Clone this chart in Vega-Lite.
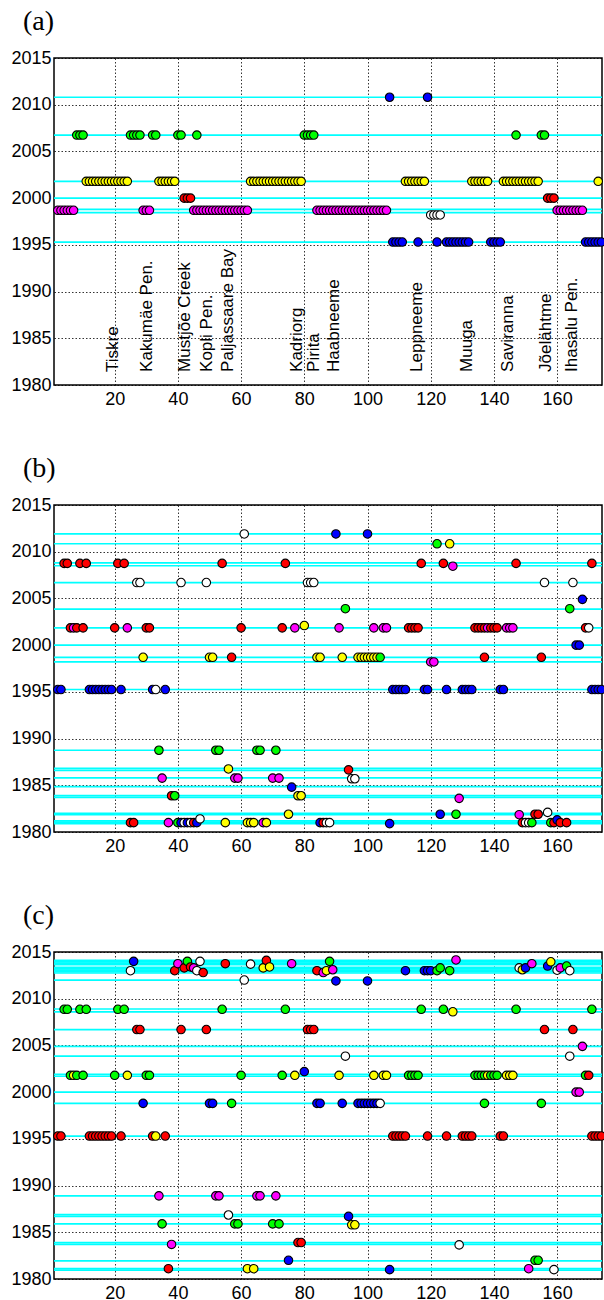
{
"$schema":"https://vega.github.io/schema/vega-lite/v6.json",
"padding":{"left":10,"top":7,"right":0,"bottom":0},
"background":"white",
"spacing":45,
"config":{
"font":"Liberation Sans",
"view":{"stroke":"black","strokeWidth":1.5},
"axis":{"grid":true,"gridColor":"black","gridDash":[1.5,2],"gridWidth":0.8,"gridOpacity":1,"domain":false,"ticks":false,"labelFontSize":18,"labelColor":"black","labelFont":"Liberation Sans"},
"axisX":{"labelPadding":5},
"axisY":{"labelPadding":3},
"title":{"font":"Liberation Serif","fontSize":28,"fontWeight":"normal","anchor":"start","frame":"group","dx":-31,"offset":13,"color":"black"}
},
"datasets":{
"lines":[
{"p":"a","y":2010.8},{"p":"a","y":2006.75},{"p":"a","y":2001.8},{"p":"a","y":2000},{"p":"a","y":1998.8},{"p":"a","y":1998.45},{"p":"a","y":1995.3},
{"p":"b","y":2011.9},{"p":"b","y":2010.85},{"p":"b","y":2008.8},{"p":"b","y":2008.5},{"p":"b","y":2006.7},{"p":"b","y":2003.85},{"p":"b","y":2001.85},{"p":"b","y":2000},{"p":"b","y":1998.7},{"p":"b","y":1998.2},{"p":"b","y":1995.25},{"p":"b","y":1988.75},{"p":"b","y":1986.8},{"p":"b","y":1986.6},{"p":"b","y":1985.8},{"p":"b","y":1984.85},{"p":"b","y":1983.9},{"p":"b","y":1983.7},{"p":"b","y":1982.0},{"p":"b","y":1981.85},{"p":"b","y":1981.2},{"p":"b","y":1981.05},{"p":"b","y":1980.9},
{"p":"c","y":2014.1},{"p":"c","y":2013.95},{"p":"c","y":2013.8},{"p":"c","y":2013.65},{"p":"c","y":2013.35},{"p":"c","y":2013.2},{"p":"c","y":2013.05},{"p":"c","y":2012.9},{"p":"c","y":2012.75},{"p":"c","y":2012.0},{"p":"c","y":2008.9},{"p":"c","y":2008.6},{"p":"c","y":2006.7},{"p":"c","y":2004.9},{"p":"c","y":2003.85},{"p":"c","y":2001.9},{"p":"c","y":2001.7},{"p":"c","y":2000},{"p":"c","y":1998.8},{"p":"c","y":1995.3},{"p":"c","y":1988.9},{"p":"c","y":1986.9},{"p":"c","y":1986.7},{"p":"c","y":1985.9},{"p":"c","y":1983.9},{"p":"c","y":1983.7},{"p":"c","y":1981.95},{"p":"c","y":1981.1},{"p":"c","y":1980.95}
],
"labels":[
{"t":"Tiskre","x":19.4},{"t":"Kakumäe Pen.","x":30.1},{"t":"Mustjõe Creek","x":42.4},{"t":"Kopli Pen.","x":49.1},{"t":"Paljassaare Bay","x":55.7},{"t":"Kadriorg","x":77.7},{"t":"Pirita","x":83.1},{"t":"Haabneeme","x":89.4},{"t":"Leppneeme","x":115.6},{"t":"Muuga","x":131.4},{"t":"Saviranna","x":144.6},{"t":"Jõelähtme","x":156.4},{"t":"Ihasalu Pen.","x":164.6}
],
"pts":[
{"p":"a","x":2,"y":1998.7,"c":"m"},{"p":"a","x":3,"y":1998.7,"c":"m"},{"p":"a","x":4,"y":1998.7,"c":"m"},{"p":"a","x":5,"y":1998.7,"c":"m"},{"p":"a","x":6,"y":1998.7,"c":"m"},{"p":"a","x":7,"y":1998.7,"c":"m"},
{"p":"a","x":8,"y":2006.75,"c":"g"},{"p":"a","x":9,"y":2006.75,"c":"g"},{"p":"a","x":10,"y":2006.75,"c":"g"},
{"p":"a","x":11,"y":2001.8,"c":"y"},{"p":"a","x":12,"y":2001.8,"c":"y"},{"p":"a","x":13,"y":2001.8,"c":"y"},{"p":"a","x":14,"y":2001.8,"c":"y"},{"p":"a","x":15,"y":2001.8,"c":"y"},{"p":"a","x":16,"y":2001.8,"c":"y"},{"p":"a","x":17,"y":2001.8,"c":"y"},{"p":"a","x":18,"y":2001.8,"c":"y"},{"p":"a","x":19,"y":2001.8,"c":"y"},{"p":"a","x":20,"y":2001.8,"c":"y"},{"p":"a","x":21,"y":2001.8,"c":"y"},{"p":"a","x":22,"y":2001.8,"c":"y"},{"p":"a","x":23,"y":2001.8,"c":"y"},{"p":"a","x":24,"y":2001.8,"c":"y"},
{"p":"a","x":25,"y":2006.75,"c":"g"},{"p":"a","x":26,"y":2006.75,"c":"g"},{"p":"a","x":27,"y":2006.75,"c":"g"},{"p":"a","x":28,"y":2006.75,"c":"g"},
{"p":"a","x":29,"y":1998.7,"c":"m"},{"p":"a","x":30,"y":1998.7,"c":"m"},{"p":"a","x":31,"y":1998.7,"c":"m"},
{"p":"a","x":32,"y":2006.75,"c":"g"},{"p":"a","x":33,"y":2006.75,"c":"g"},
{"p":"a","x":34,"y":2001.8,"c":"y"},{"p":"a","x":35,"y":2001.8,"c":"y"},{"p":"a","x":36,"y":2001.8,"c":"y"},{"p":"a","x":37,"y":2001.8,"c":"y"},{"p":"a","x":38,"y":2001.8,"c":"y"},{"p":"a","x":39,"y":2001.8,"c":"y"},
{"p":"a","x":40,"y":2006.75,"c":"g"},{"p":"a","x":41,"y":2006.75,"c":"g"},
{"p":"a","x":42,"y":2000,"c":"r"},{"p":"a","x":43,"y":2000,"c":"r"},{"p":"a","x":44,"y":2000,"c":"r"},
{"p":"a","x":45,"y":1998.7,"c":"m"},{"p":"a","x":46,"y":1998.7,"c":"m"},{"p":"a","x":47,"y":1998.7,"c":"m"},{"p":"a","x":48,"y":1998.7,"c":"m"},{"p":"a","x":49,"y":1998.7,"c":"m"},{"p":"a","x":50,"y":1998.7,"c":"m"},{"p":"a","x":51,"y":1998.7,"c":"m"},{"p":"a","x":52,"y":1998.7,"c":"m"},{"p":"a","x":53,"y":1998.7,"c":"m"},{"p":"a","x":54,"y":1998.7,"c":"m"},{"p":"a","x":55,"y":1998.7,"c":"m"},{"p":"a","x":56,"y":1998.7,"c":"m"},{"p":"a","x":57,"y":1998.7,"c":"m"},{"p":"a","x":58,"y":1998.7,"c":"m"},{"p":"a","x":59,"y":1998.7,"c":"m"},{"p":"a","x":60,"y":1998.7,"c":"m"},{"p":"a","x":61,"y":1998.7,"c":"m"},{"p":"a","x":62,"y":1998.7,"c":"m"},
{"p":"a","x":46,"y":2006.75,"c":"g"},
{"p":"a","x":63,"y":2001.8,"c":"y"},{"p":"a","x":64,"y":2001.8,"c":"y"},{"p":"a","x":65,"y":2001.8,"c":"y"},{"p":"a","x":66,"y":2001.8,"c":"y"},{"p":"a","x":67,"y":2001.8,"c":"y"},{"p":"a","x":68,"y":2001.8,"c":"y"},{"p":"a","x":69,"y":2001.8,"c":"y"},{"p":"a","x":70,"y":2001.8,"c":"y"},{"p":"a","x":71,"y":2001.8,"c":"y"},{"p":"a","x":72,"y":2001.8,"c":"y"},{"p":"a","x":73,"y":2001.8,"c":"y"},{"p":"a","x":74,"y":2001.8,"c":"y"},{"p":"a","x":75,"y":2001.8,"c":"y"},{"p":"a","x":76,"y":2001.8,"c":"y"},{"p":"a","x":77,"y":2001.8,"c":"y"},{"p":"a","x":78,"y":2001.8,"c":"y"},{"p":"a","x":79,"y":2001.8,"c":"y"},
{"p":"a","x":80,"y":2006.75,"c":"g"},{"p":"a","x":81,"y":2006.75,"c":"g"},{"p":"a","x":82,"y":2006.75,"c":"g"},{"p":"a","x":83,"y":2006.75,"c":"g"},
{"p":"a","x":84,"y":1998.7,"c":"m"},{"p":"a","x":85,"y":1998.7,"c":"m"},{"p":"a","x":86,"y":1998.7,"c":"m"},{"p":"a","x":87,"y":1998.7,"c":"m"},{"p":"a","x":88,"y":1998.7,"c":"m"},{"p":"a","x":89,"y":1998.7,"c":"m"},{"p":"a","x":90,"y":1998.7,"c":"m"},{"p":"a","x":91,"y":1998.7,"c":"m"},{"p":"a","x":92,"y":1998.7,"c":"m"},{"p":"a","x":93,"y":1998.7,"c":"m"},{"p":"a","x":94,"y":1998.7,"c":"m"},{"p":"a","x":95,"y":1998.7,"c":"m"},{"p":"a","x":96,"y":1998.7,"c":"m"},{"p":"a","x":97,"y":1998.7,"c":"m"},{"p":"a","x":98,"y":1998.7,"c":"m"},{"p":"a","x":99,"y":1998.7,"c":"m"},{"p":"a","x":100,"y":1998.7,"c":"m"},{"p":"a","x":101,"y":1998.7,"c":"m"},{"p":"a","x":102,"y":1998.7,"c":"m"},{"p":"a","x":103,"y":1998.7,"c":"m"},{"p":"a","x":104,"y":1998.7,"c":"m"},{"p":"a","x":105,"y":1998.7,"c":"m"},{"p":"a","x":106,"y":1998.7,"c":"m"},
{"p":"a","x":107,"y":2010.8,"c":"b"},
{"p":"a","x":108,"y":1995.3,"c":"b"},{"p":"a","x":109,"y":1995.3,"c":"b"},{"p":"a","x":110,"y":1995.3,"c":"b"},{"p":"a","x":111,"y":1995.3,"c":"b"},
{"p":"a","x":112,"y":2001.8,"c":"y"},{"p":"a","x":113,"y":2001.8,"c":"y"},{"p":"a","x":114,"y":2001.8,"c":"y"},{"p":"a","x":115,"y":2001.8,"c":"y"},{"p":"a","x":116,"y":2001.8,"c":"y"},{"p":"a","x":117,"y":2001.8,"c":"y"},{"p":"a","x":118,"y":2001.8,"c":"y"},
{"p":"a","x":116,"y":1995.3,"c":"b"},
{"p":"a","x":119,"y":2010.8,"c":"b"},
{"p":"a","x":120,"y":1998.2,"c":"w"},{"p":"a","x":121,"y":1998.2,"c":"w"},{"p":"a","x":122,"y":1998.2,"c":"w"},{"p":"a","x":123,"y":1998.2,"c":"w"},
{"p":"a","x":122,"y":1995.3,"c":"b"},
{"p":"a","x":125,"y":1995.3,"c":"b"},{"p":"a","x":126,"y":1995.3,"c":"b"},{"p":"a","x":127,"y":1995.3,"c":"b"},{"p":"a","x":128,"y":1995.3,"c":"b"},{"p":"a","x":129,"y":1995.3,"c":"b"},{"p":"a","x":130,"y":1995.3,"c":"b"},{"p":"a","x":131,"y":1995.3,"c":"b"},{"p":"a","x":132,"y":1995.3,"c":"b"},
{"p":"a","x":133,"y":2001.8,"c":"y"},{"p":"a","x":134,"y":2001.8,"c":"y"},{"p":"a","x":135,"y":2001.8,"c":"y"},{"p":"a","x":136,"y":2001.8,"c":"y"},{"p":"a","x":137,"y":2001.8,"c":"y"},{"p":"a","x":138,"y":2001.8,"c":"y"},
{"p":"a","x":139,"y":1995.3,"c":"b"},{"p":"a","x":140,"y":1995.3,"c":"b"},{"p":"a","x":141,"y":1995.3,"c":"b"},{"p":"a","x":142,"y":1995.3,"c":"b"},
{"p":"a","x":143,"y":2001.8,"c":"y"},{"p":"a","x":144,"y":2001.8,"c":"y"},{"p":"a","x":145,"y":2001.8,"c":"y"},{"p":"a","x":146,"y":2001.8,"c":"y"},{"p":"a","x":147,"y":2001.8,"c":"y"},{"p":"a","x":148,"y":2001.8,"c":"y"},{"p":"a","x":149,"y":2001.8,"c":"y"},{"p":"a","x":150,"y":2001.8,"c":"y"},{"p":"a","x":151,"y":2001.8,"c":"y"},{"p":"a","x":152,"y":2001.8,"c":"y"},{"p":"a","x":153,"y":2001.8,"c":"y"},{"p":"a","x":154,"y":2001.8,"c":"y"},
{"p":"a","x":147,"y":2006.75,"c":"g"},{"p":"a","x":155,"y":2006.75,"c":"g"},{"p":"a","x":156,"y":2006.75,"c":"g"},
{"p":"a","x":157,"y":2000,"c":"r"},{"p":"a","x":158,"y":2000,"c":"r"},{"p":"a","x":159,"y":2000,"c":"r"},
{"p":"a","x":160,"y":1998.7,"c":"m"},{"p":"a","x":161,"y":1998.7,"c":"m"},{"p":"a","x":162,"y":1998.7,"c":"m"},{"p":"a","x":163,"y":1998.7,"c":"m"},{"p":"a","x":164,"y":1998.7,"c":"m"},{"p":"a","x":165,"y":1998.7,"c":"m"},{"p":"a","x":166,"y":1998.7,"c":"m"},{"p":"a","x":167,"y":1998.7,"c":"m"},{"p":"a","x":168,"y":1998.7,"c":"m"},
{"p":"a","x":169,"y":1995.3,"c":"b"},{"p":"a","x":170,"y":1995.3,"c":"b"},{"p":"a","x":171,"y":1995.3,"c":"b"},{"p":"a","x":172,"y":1995.3,"c":"b"},{"p":"a","x":173,"y":1995.3,"c":"b"},{"p":"a","x":174,"y":1995.3,"c":"b"},
{"p":"a","x":173,"y":2001.8,"c":"y"},

{"p":"b","x":2,"y":1995.25,"c":"b"},{"p":"b","x":3,"y":1995.25,"c":"b"},
{"p":"b","x":4,"y":2008.75,"c":"r"},{"p":"b","x":5,"y":2008.75,"c":"r"},
{"p":"b","x":6,"y":2001.85,"c":"r"},{"p":"b","x":7,"y":2001.85,"c":"m"},{"p":"b","x":8,"y":2001.85,"c":"r"},{"p":"b","x":10,"y":2001.85,"c":"r"},
{"p":"b","x":9,"y":2008.75,"c":"r"},{"p":"b","x":11,"y":2008.75,"c":"r"},
{"p":"b","x":12,"y":1995.25,"c":"b"},{"p":"b","x":13,"y":1995.25,"c":"b"},{"p":"b","x":14,"y":1995.25,"c":"b"},{"p":"b","x":15,"y":1995.25,"c":"b"},{"p":"b","x":16,"y":1995.25,"c":"b"},{"p":"b","x":17,"y":1995.25,"c":"b"},{"p":"b","x":18,"y":1995.25,"c":"b"},{"p":"b","x":19,"y":1995.25,"c":"b"},
{"p":"b","x":20,"y":2001.85,"c":"r"},{"p":"b","x":21,"y":2008.75,"c":"r"},{"p":"b","x":22,"y":1995.25,"c":"b"},{"p":"b","x":23,"y":2008.75,"c":"r"},{"p":"b","x":24,"y":2001.85,"c":"m"},
{"p":"b","x":25,"y":1981.0,"c":"r"},{"p":"b","x":26,"y":1981.0,"c":"r"},
{"p":"b","x":27,"y":2006.7,"c":"w"},{"p":"b","x":28,"y":2006.7,"c":"w"},
{"p":"b","x":29,"y":1998.7,"c":"y"},{"p":"b","x":30,"y":2001.85,"c":"r"},{"p":"b","x":31,"y":2001.85,"c":"r"},
{"p":"b","x":32,"y":1995.25,"c":"b"},{"p":"b","x":33,"y":1995.25,"c":"w"},
{"p":"b","x":34,"y":1988.75,"c":"g"},{"p":"b","x":35,"y":1985.77,"c":"m"},{"p":"b","x":36,"y":1995.25,"c":"b"},
{"p":"b","x":37,"y":1981.0,"c":"m"},{"p":"b","x":38,"y":1983.88,"c":"r"},{"p":"b","x":39,"y":1983.88,"c":"g"},
{"p":"b","x":40,"y":1981.0,"c":"g"},{"p":"b","x":41,"y":1981.0,"c":"b"},{"p":"b","x":41,"y":2006.7,"c":"w"},{"p":"b","x":42,"y":1981.0,"c":"w"},{"p":"b","x":43,"y":1981.0,"c":"b"},{"p":"b","x":44,"y":1981.0,"c":"w"},{"p":"b","x":45,"y":1981.0,"c":"r"},{"p":"b","x":46,"y":1981.0,"c":"b"},{"p":"b","x":47,"y":1981.4,"c":"w"},
{"p":"b","x":49,"y":2006.7,"c":"w"},{"p":"b","x":50,"y":1998.7,"c":"y"},{"p":"b","x":51,"y":1998.7,"c":"y"},
{"p":"b","x":52,"y":1988.75,"c":"g"},{"p":"b","x":53,"y":1988.75,"c":"g"},{"p":"b","x":54,"y":2008.75,"c":"r"},{"p":"b","x":55,"y":1981.0,"c":"y"},{"p":"b","x":56,"y":1986.75,"c":"y"},{"p":"b","x":57,"y":1998.7,"c":"r"},
{"p":"b","x":58,"y":1985.77,"c":"m"},{"p":"b","x":59,"y":1985.77,"c":"m"},{"p":"b","x":60,"y":2001.85,"c":"r"},{"p":"b","x":61,"y":2011.9,"c":"w"},
{"p":"b","x":62,"y":1981.0,"c":"y"},{"p":"b","x":63,"y":1981.0,"c":"y"},{"p":"b","x":64,"y":1981.0,"c":"y"},
{"p":"b","x":65,"y":1988.75,"c":"g"},{"p":"b","x":66,"y":1988.75,"c":"g"},{"p":"b","x":67,"y":1981.0,"c":"m"},{"p":"b","x":68,"y":1981.0,"c":"y"},
{"p":"b","x":70,"y":1985.77,"c":"m"},{"p":"b","x":71,"y":1988.75,"c":"g"},{"p":"b","x":72,"y":1985.77,"c":"m"},{"p":"b","x":73,"y":2001.85,"c":"r"},{"p":"b","x":74,"y":2008.75,"c":"r"},
{"p":"b","x":75,"y":1981.9,"c":"y"},{"p":"b","x":76,"y":1984.8,"c":"b"},{"p":"b","x":77,"y":2001.85,"c":"m"},{"p":"b","x":78,"y":1983.88,"c":"y"},{"p":"b","x":79,"y":1983.88,"c":"y"},{"p":"b","x":80,"y":2002.1,"c":"y"},
{"p":"b","x":81,"y":2006.7,"c":"w"},{"p":"b","x":82,"y":2006.7,"c":"w"},{"p":"b","x":83,"y":2006.7,"c":"w"},
{"p":"b","x":84,"y":1998.7,"c":"y"},{"p":"b","x":85,"y":1998.7,"c":"y"},
{"p":"b","x":85,"y":1981.0,"c":"b"},{"p":"b","x":86,"y":1981.0,"c":"r"},{"p":"b","x":87,"y":1981.0,"c":"w"},{"p":"b","x":88,"y":1981.0,"c":"w"},
{"p":"b","x":90,"y":2011.9,"c":"b"},{"p":"b","x":91,"y":2001.85,"c":"m"},{"p":"b","x":92,"y":1998.7,"c":"y"},{"p":"b","x":93,"y":2003.9,"c":"g"},
{"p":"b","x":94,"y":1986.65,"c":"r"},{"p":"b","x":95,"y":1985.7,"c":"w"},{"p":"b","x":96,"y":1985.7,"c":"w"},
{"p":"b","x":97,"y":1998.7,"c":"y"},{"p":"b","x":98,"y":1998.7,"c":"y"},{"p":"b","x":99,"y":1998.7,"c":"y"},{"p":"b","x":100,"y":1998.7,"c":"y"},{"p":"b","x":101,"y":1998.7,"c":"y"},{"p":"b","x":102,"y":1998.7,"c":"y"},{"p":"b","x":103,"y":1998.7,"c":"y"},{"p":"b","x":104,"y":1998.7,"c":"g"},
{"p":"b","x":100,"y":2011.9,"c":"b"},{"p":"b","x":102,"y":2001.85,"c":"m"},{"p":"b","x":105,"y":2001.85,"c":"m"},{"p":"b","x":106,"y":2001.85,"c":"m"},
{"p":"b","x":107,"y":1980.9,"c":"b"},
{"p":"b","x":108,"y":1995.25,"c":"b"},{"p":"b","x":109,"y":1995.25,"c":"b"},{"p":"b","x":110,"y":1995.25,"c":"b"},{"p":"b","x":111,"y":1995.25,"c":"b"},{"p":"b","x":112,"y":1995.25,"c":"b"},
{"p":"b","x":113,"y":2001.85,"c":"r"},{"p":"b","x":114,"y":2001.85,"c":"r"},{"p":"b","x":115,"y":2001.85,"c":"r"},{"p":"b","x":116,"y":2001.85,"c":"r"},
{"p":"b","x":117,"y":2008.75,"c":"r"},{"p":"b","x":118,"y":1995.25,"c":"b"},{"p":"b","x":119,"y":1995.25,"c":"b"},
{"p":"b","x":120,"y":1998.2,"c":"m"},{"p":"b","x":121,"y":1998.2,"c":"m"},
{"p":"b","x":122,"y":2010.85,"c":"g"},{"p":"b","x":123,"y":1981.9,"c":"b"},{"p":"b","x":124,"y":2008.75,"c":"r"},{"p":"b","x":125,"y":1995.25,"c":"b"},{"p":"b","x":126,"y":2010.85,"c":"y"},{"p":"b","x":127,"y":2008.45,"c":"m"},
{"p":"b","x":128,"y":1981.9,"c":"g"},{"p":"b","x":129,"y":1983.6,"c":"m"},
{"p":"b","x":130,"y":1995.25,"c":"b"},{"p":"b","x":131,"y":1995.25,"c":"b"},{"p":"b","x":132,"y":1995.25,"c":"b"},{"p":"b","x":133,"y":1995.25,"c":"b"},
{"p":"b","x":134,"y":2001.85,"c":"r"},{"p":"b","x":135,"y":2001.85,"c":"r"},{"p":"b","x":136,"y":2001.85,"c":"r"},{"p":"b","x":137,"y":2001.85,"c":"r"},{"p":"b","x":138,"y":2001.85,"c":"m"},{"p":"b","x":139,"y":2001.85,"c":"r"},{"p":"b","x":140,"y":2001.85,"c":"r"},{"p":"b","x":141,"y":2001.85,"c":"r"},
{"p":"b","x":137,"y":1998.7,"c":"r"},
{"p":"b","x":142,"y":1995.25,"c":"b"},{"p":"b","x":143,"y":1995.25,"c":"b"},
{"p":"b","x":144,"y":2001.85,"c":"m"},{"p":"b","x":145,"y":2001.85,"c":"m"},{"p":"b","x":146,"y":2001.85,"c":"m"},
{"p":"b","x":147,"y":2008.75,"c":"r"},{"p":"b","x":148,"y":1981.85,"c":"m"},
{"p":"b","x":149,"y":1981.0,"c":"r"},{"p":"b","x":150,"y":1981.0,"c":"w"},{"p":"b","x":151,"y":1981.0,"c":"w"},{"p":"b","x":152,"y":1981.0,"c":"g"},
{"p":"b","x":153,"y":1981.9,"c":"r"},{"p":"b","x":154,"y":1981.9,"c":"r"},{"p":"b","x":155,"y":1998.7,"c":"r"},{"p":"b","x":156,"y":2006.7,"c":"w"},{"p":"b","x":157,"y":1982.1,"c":"w"},
{"p":"b","x":158,"y":1981.0,"c":"g"},{"p":"b","x":159,"y":1981.0,"c":"r"},{"p":"b","x":160,"y":1981.3,"c":"b"},{"p":"b","x":161,"y":1981.0,"c":"r"},{"p":"b","x":163,"y":1981.0,"c":"r"},
{"p":"b","x":164,"y":2003.9,"c":"g"},{"p":"b","x":165,"y":2006.7,"c":"w"},{"p":"b","x":166,"y":2000,"c":"b"},{"p":"b","x":167,"y":2000,"c":"b"},{"p":"b","x":168,"y":2004.9,"c":"b"},
{"p":"b","x":169,"y":2001.85,"c":"r"},{"p":"b","x":170,"y":2001.85,"c":"w"},{"p":"b","x":171,"y":2008.75,"c":"r"},
{"p":"b","x":171,"y":1995.25,"c":"b"},{"p":"b","x":172,"y":1995.25,"c":"b"},{"p":"b","x":173,"y":1995.25,"c":"b"},{"p":"b","x":174,"y":1995.25,"c":"b"},

{"p":"c","x":2,"y":1995.3,"c":"r"},{"p":"c","x":3,"y":1995.3,"c":"r"},
{"p":"c","x":4,"y":2008.87,"c":"g"},{"p":"c","x":5,"y":2008.87,"c":"g"},
{"p":"c","x":6,"y":2001.8,"c":"g"},{"p":"c","x":7,"y":2001.8,"c":"y"},{"p":"c","x":8,"y":2001.8,"c":"g"},{"p":"c","x":10,"y":2001.8,"c":"g"},
{"p":"c","x":9,"y":2008.87,"c":"g"},{"p":"c","x":11,"y":2008.87,"c":"g"},
{"p":"c","x":12,"y":1995.3,"c":"r"},{"p":"c","x":13,"y":1995.3,"c":"r"},{"p":"c","x":14,"y":1995.3,"c":"r"},{"p":"c","x":15,"y":1995.3,"c":"r"},{"p":"c","x":16,"y":1995.3,"c":"r"},{"p":"c","x":17,"y":1995.3,"c":"r"},{"p":"c","x":18,"y":1995.3,"c":"r"},{"p":"c","x":19,"y":1995.3,"c":"r"},
{"p":"c","x":20,"y":2001.8,"c":"g"},{"p":"c","x":21,"y":2008.87,"c":"g"},{"p":"c","x":22,"y":1995.3,"c":"r"},{"p":"c","x":23,"y":2008.87,"c":"g"},{"p":"c","x":24,"y":2001.8,"c":"y"},
{"p":"c","x":25,"y":2013.0,"c":"w"},{"p":"c","x":26,"y":2014.0,"c":"b"},
{"p":"c","x":27,"y":2006.7,"c":"r"},{"p":"c","x":28,"y":2006.7,"c":"r"},
{"p":"c","x":29,"y":1998.8,"c":"b"},{"p":"c","x":30,"y":2001.8,"c":"g"},{"p":"c","x":31,"y":2001.8,"c":"g"},
{"p":"c","x":32,"y":1995.3,"c":"r"},{"p":"c","x":33,"y":1995.3,"c":"y"},
{"p":"c","x":34,"y":1988.9,"c":"m"},{"p":"c","x":35,"y":1985.9,"c":"g"},{"p":"c","x":36,"y":1995.3,"c":"r"},
{"p":"c","x":37,"y":1981.1,"c":"r"},{"p":"c","x":38,"y":1983.7,"c":"m"},
{"p":"c","x":39,"y":2013.0,"c":"r"},{"p":"c","x":40,"y":2013.75,"c":"m"},{"p":"c","x":41,"y":2006.7,"c":"r"},{"p":"c","x":42,"y":2013.3,"c":"r"},{"p":"c","x":43,"y":2014.0,"c":"g"},{"p":"c","x":44,"y":2013.4,"c":"r"},{"p":"c","x":45,"y":2013.3,"c":"m"},{"p":"c","x":46,"y":2013.0,"c":"w"},{"p":"c","x":47,"y":2014.0,"c":"w"},{"p":"c","x":48,"y":2012.8,"c":"r"},
{"p":"c","x":49,"y":2006.7,"c":"r"},{"p":"c","x":50,"y":1998.8,"c":"b"},{"p":"c","x":51,"y":1998.8,"c":"b"},
{"p":"c","x":52,"y":1988.9,"c":"m"},{"p":"c","x":53,"y":1988.9,"c":"m"},{"p":"c","x":54,"y":2008.87,"c":"g"},{"p":"c","x":55,"y":2013.75,"c":"r"},{"p":"c","x":56,"y":1986.85,"c":"w"},{"p":"c","x":57,"y":1998.8,"c":"g"},
{"p":"c","x":58,"y":1985.9,"c":"g"},{"p":"c","x":59,"y":1985.9,"c":"g"},{"p":"c","x":60,"y":2001.8,"c":"g"},{"p":"c","x":61,"y":2012.0,"c":"w"},
{"p":"c","x":62,"y":1981.1,"c":"y"},{"p":"c","x":63,"y":2013.7,"c":"w"},{"p":"c","x":64,"y":1981.1,"c":"y"},
{"p":"c","x":65,"y":1988.9,"c":"m"},{"p":"c","x":66,"y":1988.9,"c":"m"},{"p":"c","x":67,"y":2013.3,"c":"y"},{"p":"c","x":68,"y":2014.1,"c":"r"},{"p":"c","x":69,"y":2013.4,"c":"y"},
{"p":"c","x":70,"y":1985.9,"c":"g"},{"p":"c","x":71,"y":1988.9,"c":"m"},{"p":"c","x":72,"y":1985.9,"c":"g"},{"p":"c","x":73,"y":2001.8,"c":"g"},{"p":"c","x":74,"y":2008.87,"c":"g"},
{"p":"c","x":75,"y":1982.0,"c":"b"},{"p":"c","x":76,"y":2013.75,"c":"m"},{"p":"c","x":77,"y":2001.8,"c":"y"},{"p":"c","x":78,"y":1983.9,"c":"r"},{"p":"c","x":79,"y":1983.9,"c":"r"},{"p":"c","x":80,"y":2002.2,"c":"b"},
{"p":"c","x":81,"y":2006.7,"c":"r"},{"p":"c","x":82,"y":2006.7,"c":"r"},{"p":"c","x":83,"y":2006.7,"c":"r"},
{"p":"c","x":84,"y":2013.0,"c":"r"},{"p":"c","x":84,"y":1998.8,"c":"b"},{"p":"c","x":85,"y":1998.8,"c":"b"},
{"p":"c","x":86,"y":2012.8,"c":"m"},{"p":"c","x":87,"y":2013.0,"c":"y"},{"p":"c","x":88,"y":2014.0,"c":"g"},{"p":"c","x":89,"y":2013.1,"c":"m"},{"p":"c","x":90,"y":2011.9,"c":"b"},
{"p":"c","x":91,"y":2001.8,"c":"y"},{"p":"c","x":92,"y":1998.8,"c":"b"},{"p":"c","x":93,"y":2003.85,"c":"w"},
{"p":"c","x":94,"y":1986.7,"c":"b"},{"p":"c","x":95,"y":1985.8,"c":"y"},{"p":"c","x":96,"y":1985.8,"c":"y"},
{"p":"c","x":97,"y":1998.8,"c":"b"},{"p":"c","x":98,"y":1998.8,"c":"b"},{"p":"c","x":99,"y":1998.8,"c":"b"},{"p":"c","x":100,"y":1998.8,"c":"b"},{"p":"c","x":101,"y":1998.8,"c":"b"},{"p":"c","x":102,"y":1998.8,"c":"b"},{"p":"c","x":103,"y":1998.8,"c":"b"},{"p":"c","x":104,"y":1998.8,"c":"w"},
{"p":"c","x":100,"y":2011.9,"c":"b"},{"p":"c","x":102,"y":2001.8,"c":"y"},{"p":"c","x":105,"y":2001.8,"c":"y"},{"p":"c","x":106,"y":2001.8,"c":"y"},
{"p":"c","x":107,"y":1981.0,"c":"b"},
{"p":"c","x":108,"y":1995.3,"c":"r"},{"p":"c","x":109,"y":1995.3,"c":"r"},{"p":"c","x":110,"y":1995.3,"c":"r"},{"p":"c","x":111,"y":1995.3,"c":"r"},{"p":"c","x":112,"y":1995.3,"c":"r"},
{"p":"c","x":112,"y":2013.0,"c":"b"},
{"p":"c","x":113,"y":2001.8,"c":"g"},{"p":"c","x":114,"y":2001.8,"c":"g"},{"p":"c","x":115,"y":2001.8,"c":"g"},{"p":"c","x":116,"y":2001.8,"c":"g"},
{"p":"c","x":117,"y":2008.87,"c":"g"},{"p":"c","x":118,"y":2013.0,"c":"b"},{"p":"c","x":119,"y":2013.0,"c":"b"},{"p":"c","x":119,"y":1995.3,"c":"r"},{"p":"c","x":120,"y":2013.0,"c":"b"},
{"p":"c","x":122,"y":2013.0,"c":"g"},{"p":"c","x":123,"y":2013.3,"c":"g"},{"p":"c","x":124,"y":2008.87,"c":"g"},{"p":"c","x":125,"y":1995.3,"c":"r"},{"p":"c","x":126,"y":2013.0,"c":"g"},{"p":"c","x":127,"y":2008.6,"c":"y"},
{"p":"c","x":128,"y":2014.15,"c":"m"},{"p":"c","x":129,"y":1983.65,"c":"w"},
{"p":"c","x":130,"y":1995.3,"c":"r"},{"p":"c","x":131,"y":1995.3,"c":"r"},{"p":"c","x":132,"y":1995.3,"c":"r"},{"p":"c","x":133,"y":1995.3,"c":"r"},
{"p":"c","x":134,"y":2001.8,"c":"g"},{"p":"c","x":135,"y":2001.8,"c":"g"},{"p":"c","x":136,"y":2001.8,"c":"g"},{"p":"c","x":137,"y":2001.8,"c":"g"},{"p":"c","x":138,"y":2001.8,"c":"y"},{"p":"c","x":139,"y":2001.8,"c":"g"},{"p":"c","x":140,"y":2001.8,"c":"g"},{"p":"c","x":141,"y":2001.8,"c":"g"},
{"p":"c","x":137,"y":1998.8,"c":"g"},
{"p":"c","x":142,"y":1995.3,"c":"r"},{"p":"c","x":143,"y":1995.3,"c":"r"},
{"p":"c","x":144,"y":2001.8,"c":"y"},{"p":"c","x":145,"y":2001.8,"c":"y"},{"p":"c","x":146,"y":2001.8,"c":"y"},
{"p":"c","x":147,"y":2008.87,"c":"g"},{"p":"c","x":148,"y":2013.3,"c":"w"},{"p":"c","x":149,"y":2013.1,"c":"y"},{"p":"c","x":150,"y":2013.3,"c":"b"},{"p":"c","x":151,"y":1981.1,"c":"m"},{"p":"c","x":152,"y":2013.75,"c":"m"},
{"p":"c","x":153,"y":1982.0,"c":"g"},{"p":"c","x":154,"y":1982.0,"c":"g"},{"p":"c","x":155,"y":1998.8,"c":"g"},{"p":"c","x":156,"y":2006.7,"c":"r"},
{"p":"c","x":157,"y":2013.5,"c":"b"},{"p":"c","x":158,"y":2013.95,"c":"y"},{"p":"c","x":159,"y":1981.0,"c":"w"},{"p":"c","x":160,"y":2013.05,"c":"w"},{"p":"c","x":161,"y":2013.3,"c":"m"},{"p":"c","x":163,"y":2013.5,"c":"g"},{"p":"c","x":164,"y":2013.0,"c":"w"},
{"p":"c","x":164,"y":2003.85,"c":"w"},{"p":"c","x":165,"y":2006.7,"c":"r"},{"p":"c","x":166,"y":2000,"c":"m"},{"p":"c","x":167,"y":2000,"c":"m"},{"p":"c","x":168,"y":2004.9,"c":"m"},
{"p":"c","x":169,"y":2001.8,"c":"g"},{"p":"c","x":170,"y":2001.8,"c":"r"},{"p":"c","x":171,"y":2008.87,"c":"g"},
{"p":"c","x":171,"y":1995.3,"c":"r"},{"p":"c","x":172,"y":1995.3,"c":"r"},{"p":"c","x":173,"y":1995.3,"c":"r"},{"p":"c","x":174,"y":1995.3,"c":"r"}
]
},
"vconcat":[
{"title":{"text":"(a)"},"width":548,"height":327,
"layer":[
{"data":{"name":"lines"},"transform":[{"filter":"datum.p == 'a'"}],"mark":{"type":"rule","color":"#00ffff","strokeWidth":1.7},
"encoding":{"y":{"field":"y","type":"quantitative","scale":{"domain":[1980,2015],"nice":false,"zero":false},"axis":{"title":null,"values":[1980,1985,1990,1995,2000,2005,2010,2015],"format":"d"}}}},
{"data":{"name":"pts"},"transform":[{"filter":"datum.p == 'a'"}],"mark":{"type":"point","shape":"circle","filled":true,"stroke":"black","strokeWidth":1.1,"size":72,"opacity":1},
"encoding":{"x":{"field":"x","type":"quantitative","scale":{"domain":[0.8,174.2],"nice":false,"zero":false},"axis":{"title":null,"values":[20,40,60,80,100,120,140,160]}},
"y":{"field":"y","type":"quantitative","scale":{"domain":[1980,2015],"nice":false,"zero":false},"axis":{"title":null,"values":[1980,1985,1990,1995,2000,2005,2010,2015],"format":"d"}},
"color":{"field":"c","type":"nominal","scale":{"domain":["r","g","b","y","m","w"],"range":["#ff0000","#00ff00","#0000ff","#ffff00","#ff00ff","#ffffff"]},"legend":null}}},
{"data":{"name":"labels"},"mark":{"type":"text","angle":270,"align":"left","baseline":"middle","fontSize":17,"font":"Liberation Sans","color":"black"},
"encoding":{"x":{"field":"x","type":"quantitative"},"y":{"datum":1981.4},"text":{"field":"t"}}}
]},
{"title":{"text":"(b)"},"width":548,"height":327,
"layer":[
{"data":{"name":"lines"},"transform":[{"filter":"datum.p == 'b'"}],"mark":{"type":"rule","color":"#00ffff","strokeWidth":1.7},
"encoding":{"y":{"field":"y","type":"quantitative","scale":{"domain":[1980,2015],"nice":false,"zero":false},"axis":{"title":null,"values":[1980,1985,1990,1995,2000,2005,2010,2015],"format":"d"}}}},
{"data":{"name":"pts"},"transform":[{"filter":"datum.p == 'b'"}],"mark":{"type":"point","shape":"circle","filled":true,"stroke":"black","strokeWidth":1.1,"size":72,"opacity":1},
"encoding":{"x":{"field":"x","type":"quantitative","scale":{"domain":[0.8,174.2],"nice":false,"zero":false},"axis":{"title":null,"values":[20,40,60,80,100,120,140,160]}},
"y":{"field":"y","type":"quantitative","scale":{"domain":[1980,2015],"nice":false,"zero":false},"axis":{"title":null,"values":[1980,1985,1990,1995,2000,2005,2010,2015],"format":"d"}},
"color":{"field":"c","type":"nominal","scale":{"domain":["r","g","b","y","m","w"],"range":["#ff0000","#00ff00","#0000ff","#ffff00","#ff00ff","#ffffff"]},"legend":null}}}
]},
{"title":{"text":"(c)"},"width":548,"height":327,
"layer":[
{"data":{"name":"lines"},"transform":[{"filter":"datum.p == 'c'"}],"mark":{"type":"rule","color":"#00ffff","strokeWidth":1.7},
"encoding":{"y":{"field":"y","type":"quantitative","scale":{"domain":[1980,2015],"nice":false,"zero":false},"axis":{"title":null,"values":[1980,1985,1990,1995,2000,2005,2010,2015],"format":"d"}}}},
{"data":{"name":"pts"},"transform":[{"filter":"datum.p == 'c'"}],"mark":{"type":"point","shape":"circle","filled":true,"stroke":"black","strokeWidth":1.1,"size":72,"opacity":1},
"encoding":{"x":{"field":"x","type":"quantitative","scale":{"domain":[0.8,174.2],"nice":false,"zero":false},"axis":{"title":null,"values":[20,40,60,80,100,120,140,160]}},
"y":{"field":"y","type":"quantitative","scale":{"domain":[1980,2015],"nice":false,"zero":false},"axis":{"title":null,"values":[1980,1985,1990,1995,2000,2005,2010,2015],"format":"d"}},
"color":{"field":"c","type":"nominal","scale":{"domain":["r","g","b","y","m","w"],"range":["#ff0000","#00ff00","#0000ff","#ffff00","#ff00ff","#ffffff"]},"legend":null}}}
]}
]
}
